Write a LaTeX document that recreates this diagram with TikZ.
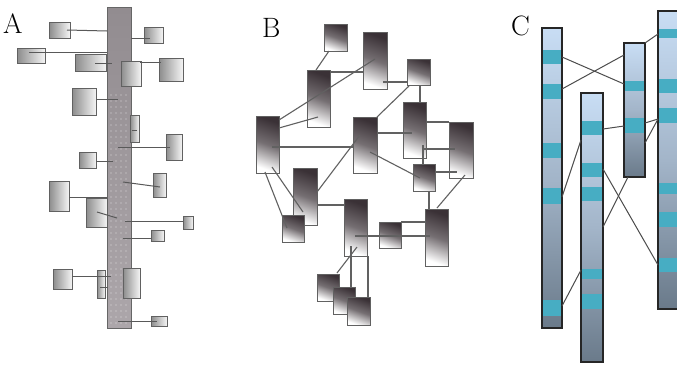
\documentclass[tikz,border=0pt]{standalone}
\usetikzlibrary{calc}
\definecolor{bdark}{HTML}{3A3136}
\definecolor{cteal}{HTML}{47ADC3}
\definecolor{ctop}{HTML}{C8DDF4}
\definecolor{cmid}{HTML}{A3B5C9}
\definecolor{cbot}{HTML}{6A7A8A}
\definecolor{bartop}{HTML}{928C90}
\definecolor{barbot}{HTML}{ACA6AA}
\newcommand\mkbox[6]{\node[#1, minimum width={(#5-#3)*1pt}, minimum height={(#6-#4)*1pt}] (#2) at ({(#3+#5)/2},{(#4+#6)/2}) {};}
\begin{document}
\begin{tikzpicture}[x=1pt,y=-1pt,
 abox/.style={draw=black!62, line width=0.9pt, left color=black!45, right color=black!4, inner sep=0pt, outer sep=0pt},
 abarstyle/.style={draw=black!60, line width=0.9pt, top color=bartop, bottom color=barbot, inner sep=0pt, outer sep=0pt},
 bbox/.style={draw=black!62, line width=1pt, top color=bdark, bottom color=white, middle color=bdark!70!white, shading angle=-20, inner sep=0pt, outer sep=0pt},
 cbar/.style={draw=black!85, line width=1.1pt, top color=ctop, bottom color=cbot, middle color=cmid, inner sep=0pt, outer sep=0pt},
 cband/.style={fill=cteal, draw=none, inner sep=0pt, outer sep=0pt},
 alink/.style={draw=black!65, line width=1pt},
 blink/.style={draw=black!62, line width=1.1pt},
 clink/.style={draw=black!70, line width=1pt},
 lab/.style={font=\fontsize{28}{28}\selectfont, inner sep=0pt, anchor=base west}]
\useasboundingbox (0,0) rectangle (677,365);
\fill[white] (0,0) rectangle (677,365);
% ---------- labels
\node[lab] (labA) at (3,33) {A};
\node[lab] (labB) at (262,37) {B};
\node[lab] (labC) at (511,35) {C};
% ---------- panel A
\mkbox{abarstyle}{abar}{107}{7}{131}{328}
\foreach \yy in {95,101,...,323} \foreach \xx in {111,116,...,127} \fill[white, opacity=0.3] (\xx,\yy) circle (0.9);
\mkbox{abox}{a1}{49}{22}{70}{38}
\mkbox{abox}{a2}{144}{27}{163}{43}
\mkbox{abox}{a3}{17}{48}{45}{63}
\mkbox{abox}{a4}{75}{54}{106}{71}
\mkbox{abox}{a5}{121}{61}{141}{86}
\mkbox{abox}{a6}{159}{58}{183}{81}
\mkbox{abox}{a7}{72}{88}{96}{115}
\mkbox{abox}{a8}{130}{115}{139}{142}
\mkbox{abox}{a9}{166}{134}{182}{160}
\mkbox{abox}{a10}{79}{152}{96}{168}
\mkbox{abox}{a11}{153}{173}{166}{197}
\mkbox{abox}{a12}{49}{181}{69}{211}
\mkbox{abox}{a13}{86}{198}{107}{227}
\mkbox{abox}{a14}{183}{216}{193}{229}
\mkbox{abox}{a15}{151}{230}{164}{241}
\mkbox{abox}{a16}{53}{269}{72}{289}
\mkbox{abox}{a17}{97}{270}{105}{298}
\mkbox{abox}{a18}{123}{268}{140}{298}
\mkbox{abox}{a19}{151}{316}{167}{326}
\draw[alink] (a1.center -| 67,0) -- (abar.west |- 0,31);
\draw[alink] (abar.east |- 0,38) -- (150,38);
\draw[alink] (29,52) -- (abar.west |- 0,52);
\draw[alink] (95,63) -- (112,63);
\draw[alink] (140,62) -- (161,62);
\draw[alink] (a7.east |- 0,99) -- (118,99);
\draw[alink] (132,130) -- (137,130);
\draw[alink] (118,147) -- (170,147);
\draw[alink] (a10.east |- 0,161) -- (113,161);
\draw[alink] (123,182) -- (160,187);
\draw[alink] (a12.east |- 0,197) -- (abar.west |- 0,197);
\draw[alink] (97,212) -- (117,218);
\draw[alink] (125,221) -- (a14.west |- 0,221);
\draw[alink] (123,238) -- (a15.west |- 0,238);
\draw[alink] (a16.east |- 0,276) -- (111,276);
\draw[alink] (100,287) -- (108,287);
\draw[alink] (118,321) -- (157,321);
% ---------- panel B
\mkbox{bbox}{b1}{324}{24}{347}{51}
\mkbox{bbox}{b2}{363}{32}{387}{89}
\mkbox{bbox}{b3}{407}{59}{430}{85}
\mkbox{bbox}{b4}{307}{70}{330}{127}
\mkbox{bbox}{b5}{256}{116}{279}{173}
\mkbox{bbox}{b6}{353}{117}{377}{173}
\mkbox{bbox}{b7}{403}{102}{426}{158}
\mkbox{bbox}{b8}{449}{122}{473}{178}
\mkbox{bbox}{b9}{413}{164}{435}{191}
\mkbox{bbox}{b10}{425}{209}{448}{266}
\mkbox{bbox}{b11}{379}{222}{401}{248}
\mkbox{bbox}{b12}{344}{199}{367}{256}
\mkbox{bbox}{b13}{293}{168}{317}{225}
\mkbox{bbox}{b14}{282}{215}{304}{242}
\mkbox{bbox}{b15}{317}{274}{339}{301}
\mkbox{bbox}{b16}{333}{287}{355}{314}
\mkbox{bbox}{b17}{347}{297}{370}{325}
\draw[blink] (329,51) -- (316,70);
\draw[blink] (b4.east |- 0,72) -- (b2.west |- 0,72);
\draw[blink] (375,59) -- (279,120);
\draw[blink] (279,128) -- (318,117);
\draw[blink] (383,82) -- (b3.west |- 0,82);
\draw[blink] (b3.south -| 420,0) -- (b7.north -| 420,0);
\draw[blink] (409,86) -- (377,117);
\draw[blink] (272,147) -- (b6.west |- 0,147);
\draw[blink] (b6.east |- 0,133) -- (412,133);
\draw[blink] (b7.east |- 0,122) -- (b8.north west);
\draw[blink] (423,149) -- (455,149);
\draw[blink] (423,145) -- (b9.north -| 423,0);
\draw[blink] (360,135) -- (317,192);
\draw[blink] (370,152) -- (420,178);
\draw[blink] (b9.east |- 0,172) -- (457,172);
\draw[blink] (b9.south -| 429,0) -- (b10.north -| 429,0);
\draw[blink] (465,175) -- (437,208);
\draw[blink] (b11.east |- 0,222) -- (b10.west |- 0,222);
\draw[blink] (355,236) -- (430,236);
\draw[blink] (b13.east |- 0,205) -- (b12.west |- 0,205);
\draw[blink] (265,172) -- (287,228);
\draw[blink] (272,167) -- (303,212);
\draw[blink] (357,247) -- (337,273);
\draw[blink] (351,246) -- (b16.north -| 351,0);
\draw[blink] (368,256) -- (b17.north -| 368,0);
% ---------- panel C
\mkbox{cbar}{c1}{542}{28}{562}{328}
\mkbox{cbar}{c2}{581}{93}{603}{362}
\mkbox{cbar}{c3}{624}{43}{645}{177}
\mkbox{cbar}{c4}{658}{11}{680}{309}
\mkbox{cband}{c1a}{543}{50}{561}{64}
\mkbox{cband}{c1b}{543}{84}{561}{99}
\mkbox{cband}{c1c}{543}{143}{561}{158}
\mkbox{cband}{c1d}{543}{188}{561}{204}
\mkbox{cband}{c1e}{543}{300}{561}{316}
\mkbox{cband}{c2a}{582}{121}{602}{135}
\mkbox{cband}{c2b}{582}{163}{602}{177}
\mkbox{cband}{c2c}{582}{187}{602}{201}
\mkbox{cband}{c2d}{582}{269}{602}{279}
\mkbox{cband}{c2e}{582}{294}{602}{309}
\mkbox{cband}{c3a}{625}{81}{644}{91}
\mkbox{cband}{c3b}{625}{118}{644}{133}
\mkbox{cband}{c4a}{659}{29}{679}{38}
\mkbox{cband}{c4b}{659}{79}{679}{93}
\mkbox{cband}{c4c}{659}{108}{679}{123}
\mkbox{cband}{c4d}{659}{183}{679}{194}
\mkbox{cband}{c4e}{659}{212}{679}{227}
\mkbox{cband}{c4f}{659}{258}{679}{272}
\draw[clink] (c1.east |- 0,57) -- (c3.west |- 0,84);
\draw[clink] (c1.east |- 0,89) -- (c3.west |- 0,55);
\draw[clink] (c3.north east) -- (c4.west |- 0,34);
\draw[clink] (c2.east |- 0,129) -- (c3.west |- 0,126);
\draw[clink] (c3.east |- 0,123) -- (c4.west |- 0,119);
\draw[clink] (c3.east |- 0,143) -- (c4.west |- 0,119);
\draw[clink] (c1.east |- 0,197) -- (c2.west |- 0,140);
\draw[clink] (c1.east |- 0,306) -- (c2.west |- 0,270);
\draw[clink] (c2.east |- 0,169) -- (c4.west |- 0,265);
\draw[clink] (c3.south -| 628,0) -- (c2.east |- 0,227);
\end{tikzpicture}
\end{document}
